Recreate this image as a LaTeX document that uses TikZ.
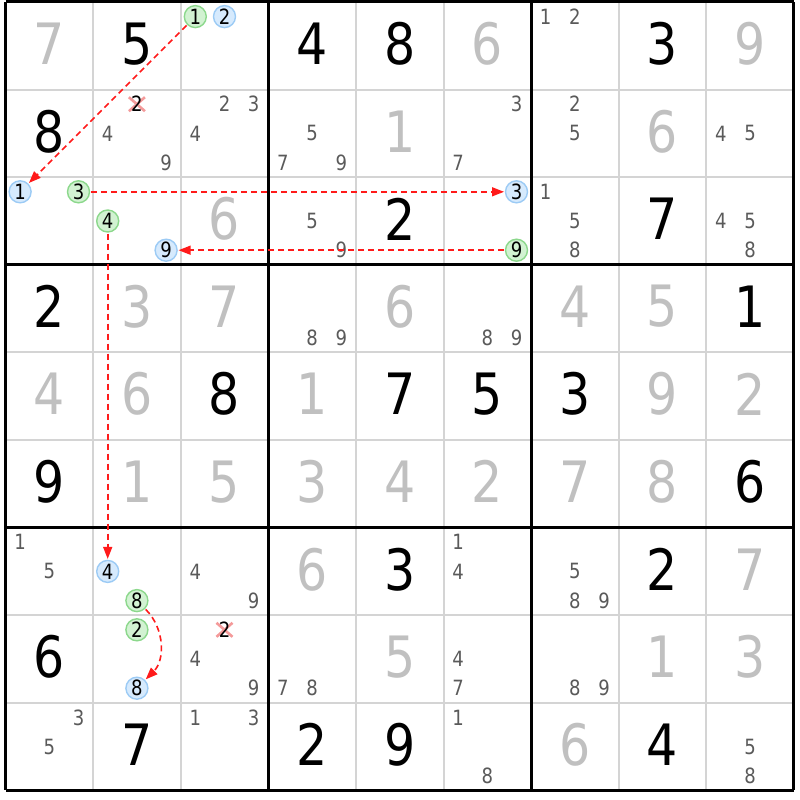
\documentclass[tikz,border=0pt]{standalone}
\usepackage{fontspec}
\setmainfont[FakeStretch=0.86]{DejaVu Sans}
\usetikzlibrary{arrows.meta}
\definecolor{solved}{HTML}{C0C0C0}
\definecolor{candc}{HTML}{5A5A5A}
\definecolor{gridgray}{HTML}{D4D4D4}
\definecolor{gfill}{HTML}{D2F2D2}
\definecolor{gline}{HTML}{8CD88C}
\definecolor{bfill}{HTML}{D6EAFD}
\definecolor{bline}{HTML}{9CCBF5}
\definecolor{xmark}{HTML}{F49A9A}
\definecolor{linkred}{HTML}{FF1A1A}
\newcommand\candpos[3]{%
  \pgfmathsetmacro\xx{49.3+87.6*#2+29.2*(mod(#3-1,3)-1)}%
  \pgfmathsetmacro\yy{45.8+87.6*#1+29.2*(int((#3-1)/3)-1)}}
\begin{document}
\begin{tikzpicture}[x=1pt,y=-1pt,
  bigd/.style={inner sep=0pt, font=\fontsize{57}{60}\selectfont},
  cand/.style={inner sep=0pt, text=candc, font=\fontsize{21}{23}\selectfont},
  circbase/.style={circle, line width=1.4pt, minimum size=22pt, inner sep=0pt, outer sep=1.5pt, font=\fontsize{21}{23}\selectfont},
  gcirc/.style={circbase, draw=gline, fill=gfill},
  bcirc/.style={circbase, draw=bline, fill=bfill},
  thinline/.style={draw=gridgray, line width=2pt},
  thickline/.style={draw=black, line width=3pt},
  xline/.style={draw=xmark, line width=2.6pt},
  link/.style={draw=linkred, line width=1.6pt, dash pattern=on 6pt off 4pt, -{Triangle[length=12pt,width=9pt]}},
]
\useasboundingbox (0,0) rectangle (800,800);
\fill[white] (0,0) rectangle (800,800);
% thin grid
\foreach \i in {1,2,4,5,7,8}{
  \draw[thinline] ({5.5+87.6*\i},2) -- ({5.5+87.6*\i},790.4);
  \draw[thinline] (5.5,{2+87.6*\i}) -- (793.9,{2+87.6*\i});
}
% thick grid
\foreach \i in {0,3,6,9}{
  \draw[thickline] ({5.5+87.6*\i},2) -- ({5.5+87.6*\i},790.4);
  \draw[thickline] (5.5,{2+87.6*\i}) -- (793.9,{2+87.6*\i});
}
% given digits (black)
\foreach \r/\c/\d in {0/1/5,0/3/4,0/4/8,0/7/3,1/0/8,2/4/2,2/7/7,3/0/2,3/8/1,4/2/8,4/4/7,4/5/5,4/6/3,5/0/9,5/8/6,6/4/3,6/7/2,7/0/6,8/1/7,8/3/2,8/4/9,8/7/4}{
  \node[bigd] (v-\r-\c) at ({49.3+87.6*\c},{43.8+87.6*\r}) {\d};
}
% solved digits (gray)
\foreach \r/\c/\d in {0/0/7,0/5/6,0/8/9,1/4/1,1/7/6,2/2/6,3/1/3,3/2/7,3/4/6,3/6/4,3/7/5,4/0/4,4/1/6,4/3/1,4/7/9,4/8/2,5/1/1,5/2/5,5/3/3,5/4/4,5/5/2,5/6/7,5/7/8,6/3/6,6/8/7,7/4/5,7/7/1,7/8/3,8/6/6}{
  \node[bigd, text=solved] (v-\r-\c) at ({49.3+87.6*\c},{43.8+87.6*\r}) {\d};
}
% candidates
\foreach \r/\c/\d in {0/6/1,0/6/2,1/1/4,1/1/9,1/2/2,1/2/3,1/2/4,1/3/5,1/3/7,1/3/9,1/5/3,1/5/7,1/6/2,1/6/5,1/8/4,1/8/5,2/3/5,2/3/9,2/6/1,2/6/5,2/6/8,2/8/4,2/8/5,2/8/8,3/3/8,3/3/9,3/5/8,3/5/9,6/0/1,6/0/5,6/2/4,6/2/9,6/5/1,6/5/4,6/6/5,6/6/8,6/6/9,7/2/4,7/2/9,7/3/7,7/3/8,7/5/4,7/5/7,7/6/8,7/6/9,8/0/3,8/0/5,8/2/1,8/2/3,8/5/1,8/5/8,8/8/5,8/8/8}{
  \candpos{\r}{\c}{\d}
  \node[cand] (k-\r-\c-\d) at (\xx,\yy) {\d};
}
% eliminated candidates
\candpos{1}{1}{2}
\coordinate (e1) at (\xx,\yy);
\draw[xline] ([shift={(-8,-7)}]e1) -- ([shift={(8,7)}]e1);
\draw[xline] ([shift={(-8,7)}]e1) -- ([shift={(8,-7)}]e1);
\node[cand, text=black] (x1) at (e1) {2};
\candpos{7}{2}{2}
\coordinate (e2) at (\xx,\yy);
\draw[xline] ([shift={(-8,-7)}]e2) -- ([shift={(8,7)}]e2);
\draw[xline] ([shift={(-8,7)}]e2) -- ([shift={(8,-7)}]e2);
\node[cand, text=black] (x2) at (e2) {2};
% chain circles
\candpos{0}{2}{1}\node[gcirc] (g1) at (\xx,\yy) {1};
\candpos{0}{2}{2}\node[bcirc] (b2a) at (\xx,\yy) {2};
\candpos{2}{0}{1}\node[bcirc] (b1) at (\xx,\yy) {1};
\candpos{2}{0}{3}\node[gcirc] (g3) at (\xx,\yy) {3};
\candpos{2}{1}{4}\node[gcirc] (g4) at (\xx,\yy) {4};
\candpos{2}{1}{9}\node[bcirc] (b9) at (\xx,\yy) {9};
\candpos{2}{5}{3}\node[bcirc] (b3) at (\xx,\yy) {3};
\candpos{2}{5}{9}\node[gcirc] (g9) at (\xx,\yy) {9};
\candpos{6}{1}{4}\node[bcirc] (b4) at (\xx,\yy) {4};
\candpos{6}{1}{8}\node[gcirc] (g8) at (\xx,\yy) {8};
\candpos{7}{1}{2}\node[gcirc] (g2) at (\xx,\yy) {2};
\candpos{7}{1}{8}\node[bcirc] (b8) at (\xx,\yy) {8};
% links
\draw[link] (g1) -- (b1);
\draw[link] (g3) -- (b3);
\draw[link] (g9) -- (b9);
\draw[link] (g4) -- (b4);
\draw[link] (g8) to[bend left=45] (b8);
\end{tikzpicture}
\end{document}
